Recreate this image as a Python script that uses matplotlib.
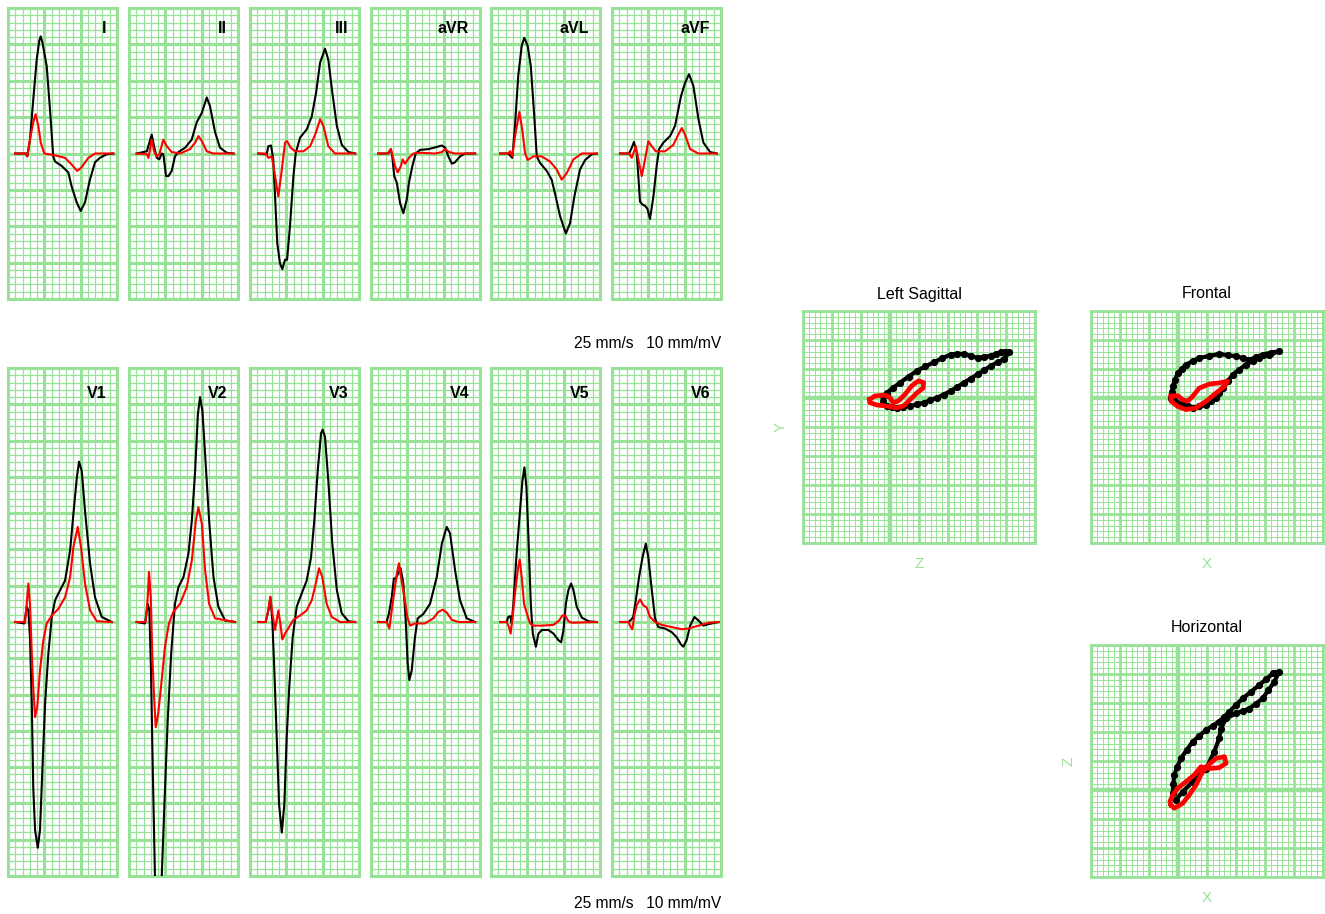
import numpy as np
import matplotlib
matplotlib.use("Agg")
import matplotlib.pyplot as plt

plt.rcParams['font.family'] = ['Liberation Sans', 'DejaVu Sans']

# ---------------- DATA (time in ms, amplitude in mV) ----------------
limb_names = ["I", "II", "III", "aVR", "aVL", "aVF"]
chest_names = ["V1", "V2", "V3", "V4", "V5", "V6"]
speed_label = "25 mm/s   10 mm/mV"

I_blk_t = [39, 100, 106, 121, 139, 158, 172, 180, 190, 213, 231, 249, 259, 295, 332, 350, 378, 400, 424, 451, 479, 506, 543, 580]
I_blk_v = [0, 0, -0.04, 0.19, 0.74, 1.29, 1.55, 1.61, 1.52, 1.20, 0.61, -0.04, -0.11, -0.17, -0.26, -0.45, -0.67, -0.79, -0.67, -0.36, -0.12, -0.06, -0.01, 0]
I_red_t = [39, 94, 106, 121, 139, 152, 167, 180, 200, 249, 314, 350, 381, 405, 442, 479, 580]
I_red_v = [0, 0, -0.04, 0.19, 0.43, 0.54, 0.38, 0.15, 0, -0.02, -0.06, -0.15, -0.24, -0.19, -0.06, 0, 0]

II_blk_t = [42, 98, 125, 138, 153, 167, 180, 189, 204, 217, 235, 253, 272, 309, 345, 373, 401, 428, 446, 474, 501, 538, 575]
II_blk_v = [0, 0.03, 0.26, 0.10, -0.06, -0.08, 0, -0.01, -0.31, -0.31, -0.24, -0.04, 0.02, 0.08, 0.19, 0.43, 0.56, 0.77, 0.65, 0.29, 0.08, 0.01, 0]
II_red_t = [42, 98, 107, 125, 138, 153, 167, 189, 208, 235, 281, 336, 364, 382, 401, 428, 464, 575]
II_red_v = [0, -0.01, -0.06, 0.19, 0.03, -0.04, -0.01, 0.19, 0.10, 0.02, 0, 0.06, 0.15, 0.24, 0.17, 0.03, 0, 0]

III_blk_t = [46, 92, 101, 116, 128, 138, 150, 165, 178, 193, 204, 220, 239, 252, 276, 312, 340, 364, 386, 413, 431, 453, 478, 505, 542, 579]
III_blk_v = [0, -0.01, 0.10, 0.11, -0.08, -0.59, -1.23, -1.51, -1.59, -1.46, -1.46, -1.00, -0.31, 0.01, 0.22, 0.33, 0.51, 0.84, 1.25, 1.44, 1.29, 0.84, 0.38, 0.12, 0.02, 0]
III_red_t = [46, 86, 101, 120, 138, 156, 175, 193, 204, 224, 248, 294, 331, 362, 386, 404, 431, 468, 579]
III_red_v = [0, 0, -0.06, -0.04, -0.31, -0.59, -0.22, 0.15, 0.17, 0.08, 0.03, 0.03, 0.10, 0.28, 0.47, 0.38, 0.10, 0, 0]

aVR_blk_t = [40, 95, 109, 117, 128, 142, 160, 178, 197, 209, 228, 246, 270, 316, 362, 390, 408, 426, 445, 463, 490, 518, 573]
aVR_blk_v = [0, 0, 0.06, -0.04, -0.31, -0.40, -0.68, -0.82, -0.63, -0.40, -0.17, 0, 0.05, 0.06, 0.09, 0.11, 0.08, -0.04, -0.14, -0.12, -0.04, 0, 0]
aVR_red_t = [40, 92, 109, 120, 132, 147, 165, 174, 187, 209, 233, 270, 353, 390, 408, 430, 463, 573]
aVR_red_v = [0, 0, 0.06, -0.04, -0.17, -0.26, -0.17, -0.08, -0.14, -0.06, 0, 0.01, 0, 0.02, 0.06, 0.02, 0, 0]

aVL_blk_t = [50, 95, 110, 117, 132, 150, 169, 183, 202, 219, 237, 252, 270, 307, 334, 356, 380, 412, 435, 459, 490, 518, 555, 582]
aVL_blk_v = [0, 0, -0.04, -0.06, 0.38, 1.07, 1.48, 1.59, 1.48, 1.20, 0.56, -0.04, -0.13, -0.24, -0.36, -0.59, -0.86, -1.10, -0.96, -0.59, -0.22, -0.09, -0.01, 0]
aVL_red_t = [50, 95, 105, 117, 136, 156, 172, 187, 202, 233, 279, 325, 362, 389, 417, 454, 500, 582]
aVL_red_v = [0, 0, 0.03, -0.04, 0.29, 0.57, 0.33, 0.01, -0.09, -0.04, -0.04, -0.11, -0.22, -0.36, -0.27, -0.08, 0, 0]

aVF_blk_t = [44, 94, 109, 121, 136, 145, 154, 167, 182, 195, 209, 228, 246, 259, 283, 320, 347, 380, 402, 424, 448, 476, 503, 540, 577]
aVF_blk_v = [0, 0, 0.08, 0.16, 0.01, -0.31, -0.66, -0.70, -0.72, -0.76, -0.90, -0.59, -0.17, 0.06, 0.15, 0.24, 0.38, 0.79, 0.97, 1.09, 0.93, 0.47, 0.15, 0.02, 0]
aVF_red_t = [44, 94, 109, 131, 145, 164, 182, 200, 219, 241, 292, 338, 365, 384, 402, 430, 476, 577]
aVF_red_v = [0, 0, -0.06, 0.10, -0.08, -0.31, -0.08, 0.17, 0.10, 0.03, 0.03, 0.12, 0.26, 0.35, 0.26, 0.06, 0, 0]

V1_blk_t = [39, 90, 103, 112, 121, 131, 139, 149, 164, 176, 189, 204, 222, 241, 259, 287, 314, 342, 360, 379, 391, 406, 424, 452, 479, 516, 571]
V1_blk_v = [0, -0.02, 0.21, 0.16, -0.21, -1.13, -2.28, -2.87, -3.11, -2.87, -2.05, -1.13, -0.44, 0.07, 0.30, 0.44, 0.57, 0.99, 1.49, 1.99, 2.21, 2.08, 1.53, 0.80, 0.34, 0.07, 0]
V1_red_t = [39, 94, 103, 112, 121, 131, 139, 149, 161, 176, 194, 213, 241, 277, 314, 342, 360, 384, 402, 424, 452, 489, 571]
V1_red_v = [0, 0, 0.25, 0.53, 0.25, -0.44, -0.90, -1.31, -1.17, -0.67, -0.26, -0.02, 0.09, 0.18, 0.34, 0.62, 1.03, 1.31, 1.03, 0.53, 0.16, 0.01, 0]

V2_blk_t = [42, 88, 103, 112, 121, 131, 143, 161, 180, 195, 213, 232, 253, 272, 300, 327, 346, 364, 379, 391, 404, 419, 441, 465, 492, 529, 584]
V2_blk_v = [0, -0.02, 0.25, 0.16, -0.67, -2.05, -3.52, -4.20, -3.52, -2.51, -1.36, -0.44, 0.25, 0.48, 0.62, 0.94, 1.40, 2.08, 2.86, 3.10, 2.91, 2.31, 1.40, 0.62, 0.21, 0.02, 0]
V2_red_t = [42, 92, 103, 110, 120, 128, 138, 147, 161, 180, 198, 220, 244, 281, 318, 346, 368, 382, 401, 419, 441, 474, 584]
V2_red_v = [0, 0, 0.34, 0.69, 0.34, -0.44, -1.03, -1.45, -1.26, -0.80, -0.34, -0.02, 0.14, 0.25, 0.48, 0.85, 1.40, 1.58, 1.35, 0.71, 0.25, 0.05, 0]

V3_blk_t = [46, 86, 101, 112, 123, 134, 147, 160, 175, 189, 202, 216, 235, 257, 284, 312, 336, 354, 373, 391, 400, 413, 431, 453, 478, 505, 542, 579]
V3_blk_v = [0, 0, 0.16, 0.34, 0.02, -0.67, -1.59, -2.51, -2.90, -2.51, -1.59, -0.90, -0.21, 0.21, 0.39, 0.57, 0.89, 1.40, 2.09, 2.60, 2.65, 2.55, 1.95, 1.08, 0.44, 0.12, 0.01, 0]
V3_red_t = [46, 86, 101, 112, 123, 138, 156, 167, 178, 193, 215, 239, 276, 312, 340, 362, 380, 398, 422, 450, 496, 579]
V3_red_v = [0, 0, 0.16, 0.35, 0.12, -0.11, 0.16, -0.02, -0.24, -0.16, -0.07, 0.03, 0.09, 0.16, 0.30, 0.53, 0.74, 0.62, 0.25, 0.07, 0, 0]

V4_blk_t = [40, 86, 99, 114, 126, 136, 150, 163, 178, 191, 202, 211, 224, 242, 257, 288, 325, 362, 390, 417, 435, 463, 490, 527, 573]
V4_blk_v = [0, 0, 0.12, 0.34, 0.60, 0.60, 0.67, 0.74, 0.53, 0.02, -0.57, -0.80, -0.67, -0.21, 0.05, 0.11, 0.25, 0.62, 1.08, 1.31, 1.22, 0.71, 0.30, 0.05, 0]
V4_red_t = [40, 86, 101, 114, 132, 145, 154, 165, 184, 200, 215, 242, 297, 343, 371, 395, 417, 445, 481, 573]
V4_red_v = [0, 0, -0.09, 0.16, 0.48, 0.71, 0.81, 0.62, 0.34, 0.07, -0.05, -0.02, -0.02, 0.05, 0.14, 0.17, 0.13, 0.03, 0, 0]

V5_blk_t = [50, 86, 95, 106, 114, 123, 141, 160, 173, 184, 195, 206, 219, 230, 247, 261, 280, 316, 344, 371, 386, 399, 412, 426, 441, 454, 472, 500, 537, 582]
V5_blk_v = [0, 0, 0.07, 0.08, -0.02, 0.25, 0.94, 1.54, 1.95, 2.13, 1.86, 1.17, 0.25, -0.16, -0.34, -0.16, -0.11, -0.11, -0.16, -0.25, -0.28, -0.11, 0.25, 0.44, 0.53, 0.44, 0.21, 0.06, 0.01, 0]
V5_red_t = [50, 86, 99, 108, 119, 136, 150, 158, 169, 182, 197, 215, 233, 280, 344, 375, 393, 408, 426, 445, 582]
V5_red_v = [0, 0, -0.07, -0.16, 0.07, 0.48, 0.76, 0.86, 0.62, 0.25, 0.12, -0.02, -0.05, -0.05, -0.04, 0.02, 0.09, 0.09, 0.01, -0.01, 0]

V6_blk_t = [44, 90, 105, 117, 131, 149, 168, 186, 200, 219, 237, 255, 292, 329, 356, 380, 393, 411, 430, 454, 476, 503, 531, 586]
V6_blk_v = [0, 0, 0.03, 0.07, 0.30, 0.62, 0.89, 1.08, 0.89, 0.44, 0.05, -0.07, -0.09, -0.14, -0.21, -0.31, -0.34, -0.25, -0.05, 0.07, 0.02, -0.05, -0.03, 0]
V6_red_t = [44, 90, 103, 112, 123, 136, 154, 173, 191, 209, 237, 274, 329, 384, 420, 476, 531, 586]
V6_red_v = [0, 0, -0.07, -0.10, 0.09, 0.23, 0.31, 0.23, 0.20, 0.07, 0, -0.04, -0.07, -0.10, -0.09, -0.05, -0.01, 0]

limb_black = [(I_blk_t, I_blk_v), (II_blk_t, II_blk_v), (III_blk_t, III_blk_v),
              (aVR_blk_t, aVR_blk_v), (aVL_blk_t, aVL_blk_v), (aVF_blk_t, aVF_blk_v)]
limb_red = [(I_red_t, I_red_v), (II_red_t, II_red_v), (III_red_t, III_red_v),
            (aVR_red_t, aVR_red_v), (aVL_red_t, aVL_red_v), (aVF_red_t, aVF_red_v)]
chest_black = [(V1_blk_t, V1_blk_v), (V2_blk_t, V2_blk_v), (V3_blk_t, V3_blk_v),
               (V4_blk_t, V4_blk_v), (V5_blk_t, V5_blk_v), (V6_blk_t, V6_blk_v)]
chest_red = [(V1_red_t, V1_red_v), (V2_red_t, V2_red_v), (V3_red_t, V3_red_v),
             (V4_red_t, V4_red_v), (V5_red_t, V5_red_v), (V6_red_t, V6_red_v)]

# Vectorcardiogram loops (grid units)
sag_blk_x = [-0.23, -0.11, 0.12, 0.35, 0.64, 0.93, 1.22, 1.51, 1.80, 2.09, 2.32, 2.55, 2.78, 3.02, 3.25, 3.48, 3.65, 3.83, 3.97, 4.11, 3.94, 3.71, 3.48, 3.25, 3.02, 2.78, 2.55, 2.32, 2.09, 1.85, 1.62, 1.39, 1.16, 0.93, 0.70, 0.46, 0.23, 0.06, -0.11, -0.23]
sag_blk_y = [0.07, 0.18, 0.36, 0.53, 0.74, 0.94, 1.09, 1.23, 1.37, 1.50, 1.52, 1.52, 1.45, 1.38, 1.42, 1.46, 1.52, 1.58, 1.60, 1.58, 1.35, 1.23, 1.11, 0.96, 0.82, 0.67, 0.53, 0.38, 0.24, 0.12, 0.01, -0.08, -0.16, -0.22, -0.28, -0.31, -0.34, -0.32, -0.28, -0.10]
sag_red_x = [-0.70, -0.52, -0.17, 0, 0.11, 0.29, 0.52, 0.75, 0.98, 1.16, 1.14, 0.93, 0.70, 0.46, 0.23, -0.11, -0.46, -0.70, -0.70]
sag_red_y = [-0.05, 0.07, 0.10, 0.01, -0.16, -0.10, 0.13, 0.42, 0.59, 0.53, 0.34, 0.18, -0.05, -0.28, -0.34, -0.28, -0.24, -0.16, -0.05]

fro_blk_x = [-0.24, -0.21, -0.18, -0.10, -0.01, 0.13, 0.28, 0.50, 0.73, 1.07, 1.42, 1.71, 2.00, 2.23, 2.46, 2.69, 2.92, 3.20, 3.49, 3.15, 2.80, 2.57, 2.34, 2.11, 1.89, 1.71, 1.54, 1.42, 1.31, 1.14, 0.97, 0.74, 0.51, 0.33, 0.16, -0.13, -0.24]
fro_blk_y = [0, 0.20, 0.40, 0.63, 0.86, 1.01, 1.15, 1.27, 1.38, 1.45, 1.52, 1.48, 1.44, 1.38, 1.32, 1.41, 1.50, 1.56, 1.61, 1.50, 1.38, 1.27, 1.15, 0.98, 0.81, 0.57, 0.34, 0.17, 0, -0.12, -0.23, -0.29, -0.34, -0.29, -0.23, -0.06, 0]
fro_red_x = [-0.24, -0.01, 0.16, 0.33, 0.51, 0.73, 1.08, 1.42, 1.71, 1.60, 1.31, 0.97, 0.62, 0.28, -0.01, -0.24, -0.24]
fro_red_y = [0.06, 0.08, -0.06, -0.11, 0.06, 0.34, 0.48, 0.52, 0.58, 0.40, 0.17, -0.11, -0.34, -0.40, -0.29, -0.11, 0.06]

hor_blk_x = [-0.18, -0.16, -0.13, -0.02, 0.10, 0.30, 0.51, 0.74, 0.97, 1.20, 1.42, 1.60, 1.77, 2.00, 2.23, 2.52, 2.80, 3.04, 3.27, 3.38, 3.49, 3.32, 3.12, 2.92, 2.69, 2.46, 2.23, 2.00, 1.66, 1.48, 1.42, 1.25, 0.97, 0.51, 0.16, -0.07]
hor_blk_y = [-0.12, 0.20, 0.52, 0.81, 1.09, 1.38, 1.67, 1.87, 2.07, 2.22, 2.36, 2.53, 2.70, 2.93, 3.16, 3.39, 3.62, 3.82, 4.02, 4.05, 4.08, 3.73, 3.45, 3.16, 2.98, 2.81, 2.72, 2.64, 2.47, 2.12, 1.78, 1.32, 0.74, 0.29, -0.06, -0.34]
hor_red_x = [-0.24, -0.13, 0.16, 0.39, 0.62, 0.79, 0.97, 1.31, 1.60, 1.66, 1.42, 1.08, 0.79, 0.56, 0.28, -0.01, -0.18, -0.28, -0.24]
hor_red_y = [-0.52, -0.63, -0.46, -0.17, 0.17, 0.52, 0.80, 1.09, 1.15, 0.92, 0.77, 0.74, 0.80, 0.52, 0.29, 0.06, -0.17, -0.40, -0.52]

vcg_titles = ["Left Sagittal", "Frontal", "Horizontal"]

# ---------------- STYLE / LAYOUT ----------------
W, H = 1325, 914
GREEN = '#98e298'
fig = plt.figure(figsize=(W / 100, H / 100), dpi=100)


def px_axes(x0, y0, x1, y1):
    return fig.add_axes([x0 / W, 1 - y1 / H, (x1 - x0) / W, (y1 - y0) / H])


def style_box(ax, lw=2.2):
    ax.set_xticks([])
    ax.set_yticks([])
    for s in ax.spines.values():
        s.set_color(GREEN)
        s.set_linewidth(lw)


def ecg_grid(ax, ymax):
    ax.set_xlim(0, 600)
    ax.set_ylim(-ymax, ymax)
    for k, t in enumerate(np.arange(0, 601, 40)):
        major = (k % 5 == 0)
        ax.axvline(t, color=GREEN, lw=2.2 if major else 0.9, zorder=1)
    n = int(round(ymax * 10))
    for k in range(-n, n + 1):
        major = (k % 5 == 0)
        ax.axhline(k / 10, color=GREEN, lw=2.2 if major else 0.9, zorder=1)
    style_box(ax)


col_x = [8, 129, 250, 371, 491, 612]
pw = 109
rows = [(8, 299, 2.0, limb_names, limb_black, limb_red, 0.93),
        (368, 876, 3.5, chest_names, chest_black, chest_red, 0.95)]
for (y0, y1, ymax, names, blks, reds, ly) in rows:
    for i, x0 in enumerate(col_x):
        ax = px_axes(x0, y0, x0 + pw, y1)
        ecg_grid(ax, ymax)
        bt, bv = blks[i]
        rt, rv = reds[i]
        ax.plot(bt, bv, color='black', lw=1.5, zorder=3, solid_joinstyle='round')
        ax.plot(rt, rv, color='red', lw=1.5, zorder=4, solid_joinstyle='round')
        ax.text(0.9, ly, names[i], transform=ax.transAxes, ha='right', va='center',
                fontsize=11.5, fontweight='bold', zorder=5)

fig.text(721 / W, 1 - 343 / H, speed_label, ha='right', va='center', fontsize=11.2)
fig.text(721 / W, 1 - 903 / H, speed_label, ha='right', va='center', fontsize=11.2)


def vcg_grid(ax, xlim, ylim):
    ax.set_xlim(*xlim)
    ax.set_ylim(*ylim)
    for k in range(int(round(xlim[0] * 5)), int(round(xlim[1] * 5)) + 1):
        lw = 3.2 if k == 0 else (2.0 if k % 5 == 0 else 0.7)
        ax.axvline(k / 5, color=GREEN, lw=lw, zorder=1)
    for k in range(int(round(ylim[0] * 5)), int(round(ylim[1] * 5)) + 1):
        lw = 3.2 if k == 0 else (2.0 if k % 5 == 0 else 0.7)
        ax.axhline(k / 5, color=GREEN, lw=lw, zorder=1)
    style_box(ax, lw=2.0)


vcg_specs = [
    (803, 311, (-3, 5), (-5, 3), sag_blk_x, sag_blk_y, sag_red_x, sag_red_y, "Z", "Y"),
    (1091, 311, (-3, 5), (-5, 3), fro_blk_x, fro_blk_y, fro_red_x, fro_red_y, "X", None),
    (1091, 645, (-3, 5), (-3, 5), hor_blk_x, hor_blk_y, hor_red_x, hor_red_y, "X", "Z"),
]
for j, (x0, y0, xl, yl, bx, by, rx, ry, xlab, ylab) in enumerate(vcg_specs):
    ax = px_axes(x0, y0, x0 + 232, y0 + 232)
    vcg_grid(ax, xl, yl)
    ax.plot(bx, by, color='black', lw=3.0, marker='o', ms=4.2, zorder=3,
            solid_joinstyle='round', solid_capstyle='round')
    ax.plot(rx, ry, color='red', lw=3.4, zorder=4, solid_joinstyle='round')
    ax.set_title(vcg_titles[j], fontsize=11.5, pad=9)
    ax.set_xlabel(xlab, color=GREEN, fontsize=11, labelpad=10)
    if ylab:
        ax.set_ylabel(ylab, color=GREEN, fontsize=11, labelpad=11)

fig.savefig("out.png", dpi=100)
